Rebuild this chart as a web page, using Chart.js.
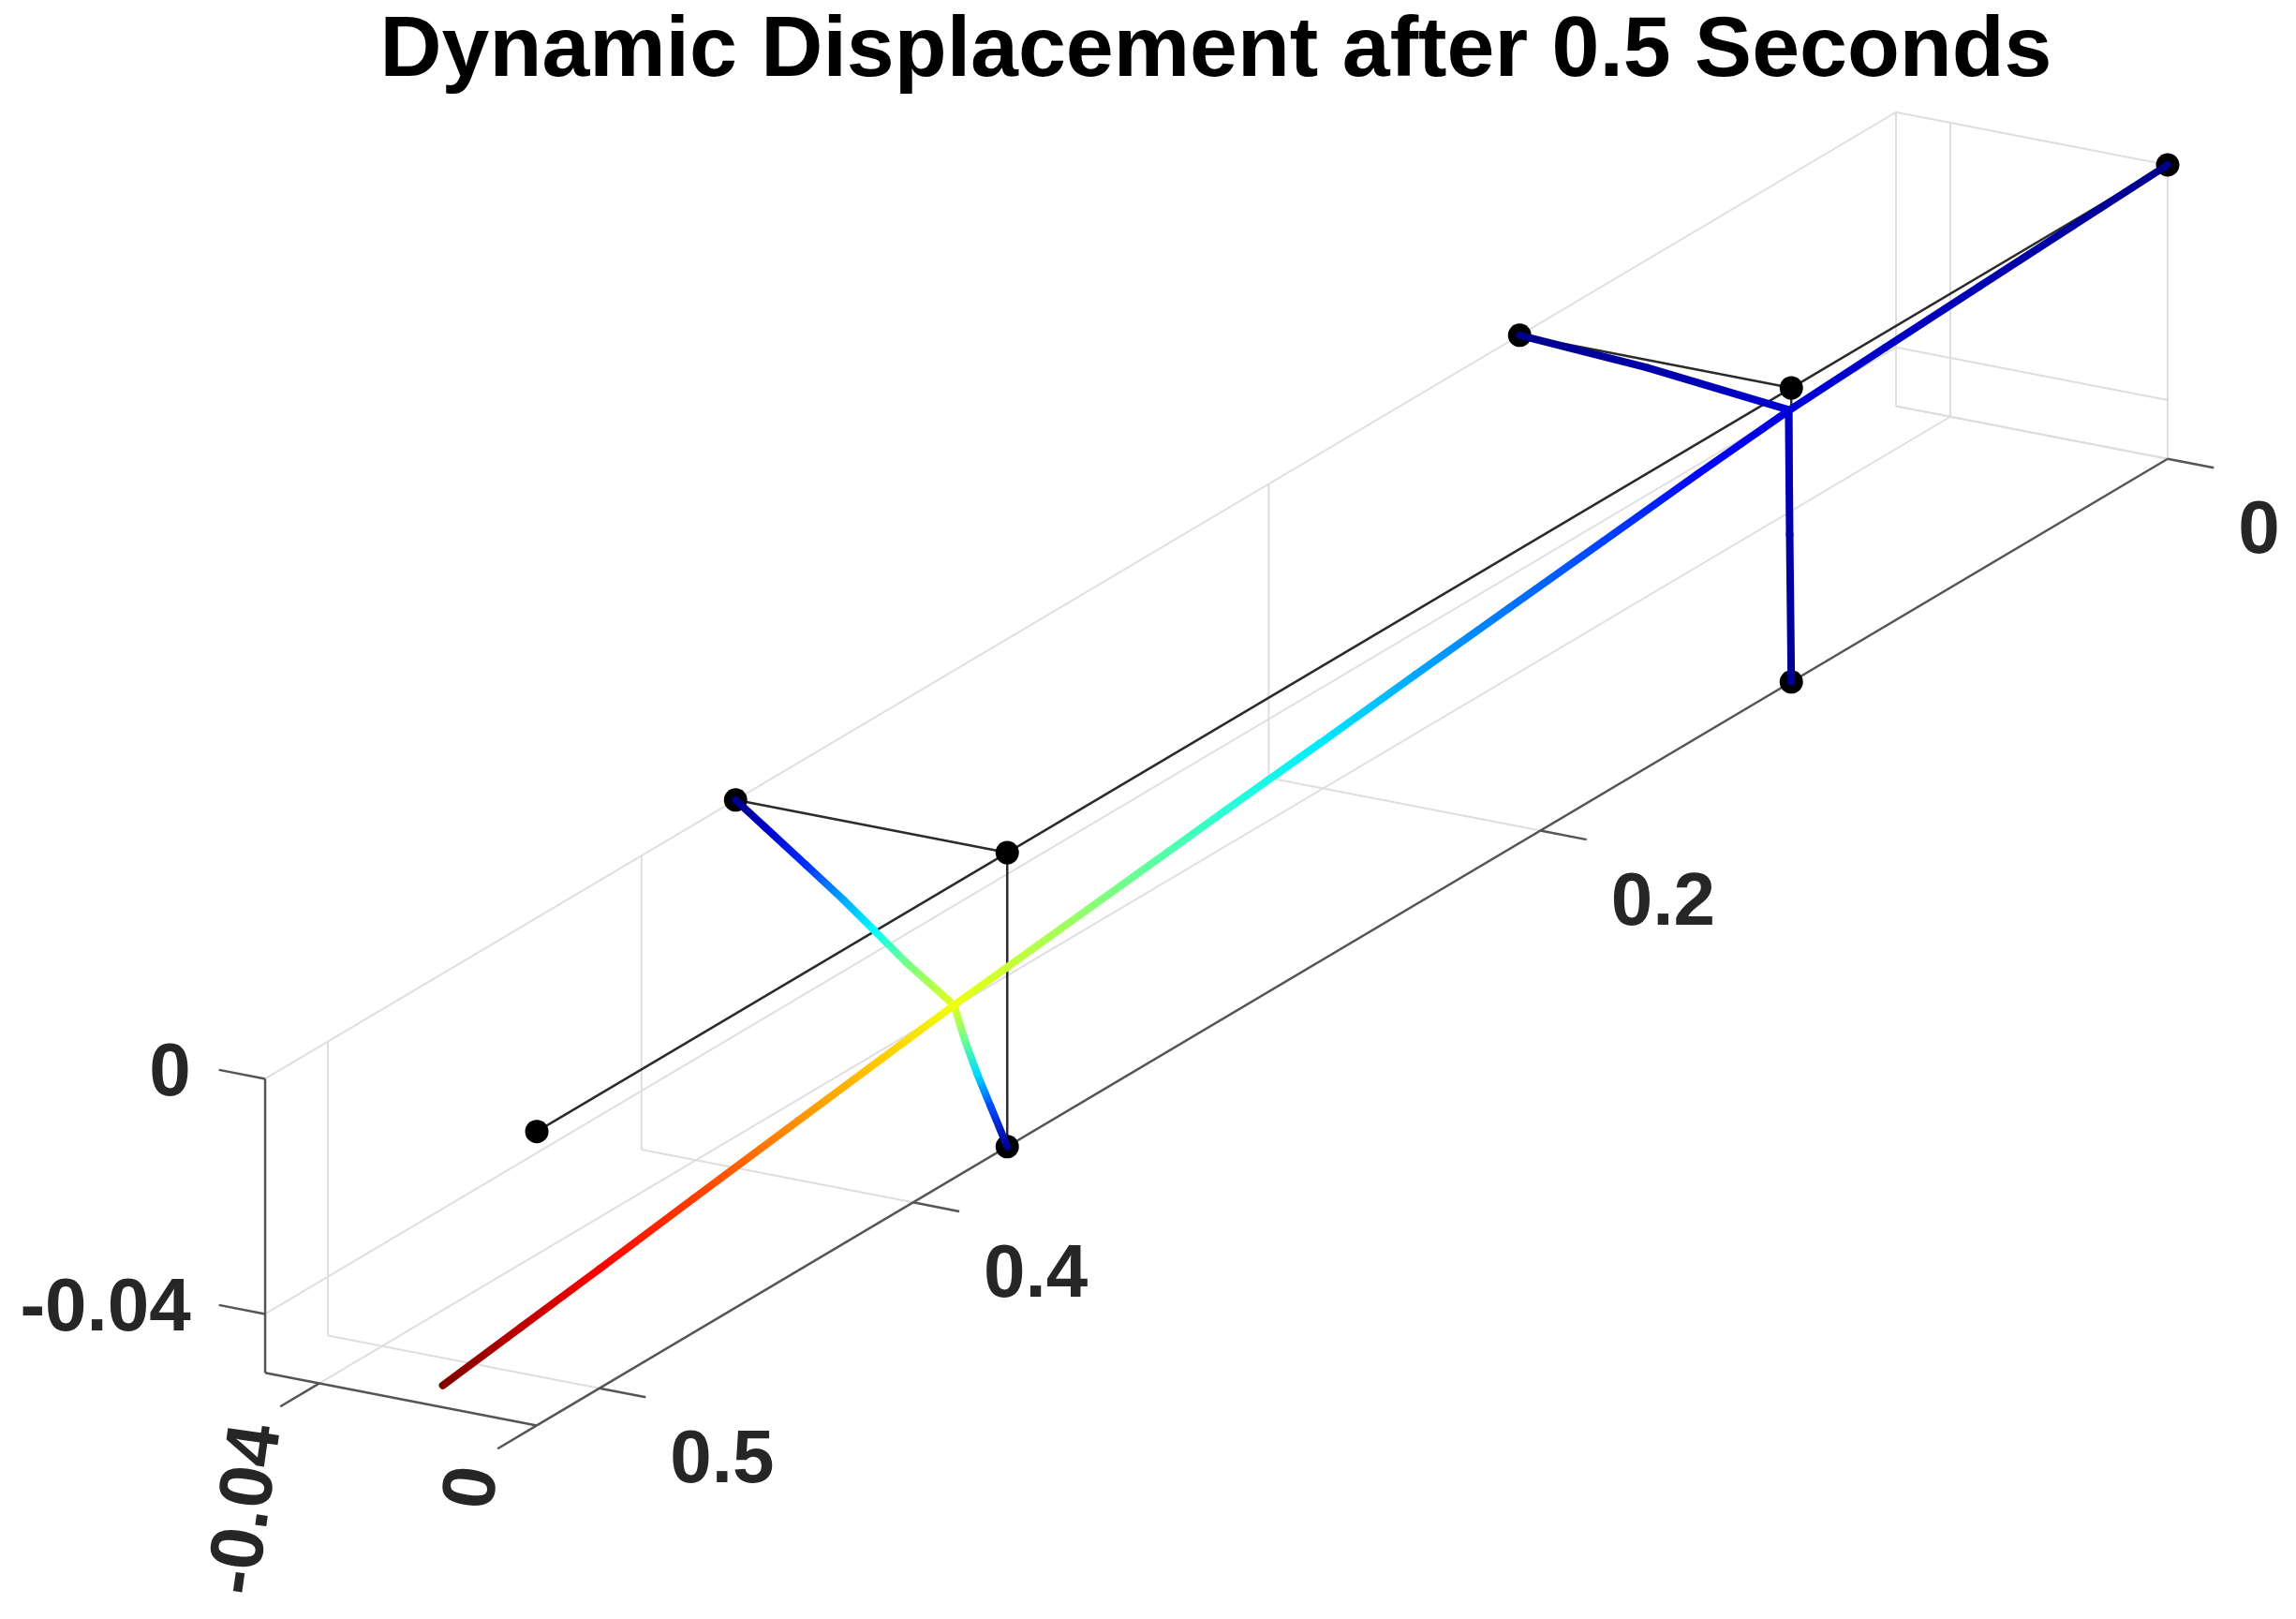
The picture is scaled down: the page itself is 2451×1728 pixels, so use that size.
<!DOCTYPE html>
<html>
<head>
    <meta charset="utf-8" />
    <title>Dynamic Displacement</title>
    <style>
        html, body { margin: 0; padding: 0; background: #fff; }
        canvas { display: block; }
    </style>
</head>
<body>
    <canvas id="chart" width="2451" height="1728"></canvas>

    <script src="https://cdn.jsdelivr.net/npm/chart.js"></script>
    <script>
        const titleText = 'Dynamic Displacement after 0.5 Seconds';

        // axis limits and ticks (metres)
        const xLimits = [0, 0.52];
        const yLimits = [-0.05, 0];
        const zLimits = [-0.05, 0];
        const xTicks = [0, 0.2, 0.4, 0.5];
        const yTicks = [-0.04, 0];
        const zTicks = [-0.04, 0];

        // undeformed frame
        const restX = [0, 0.12, 0.37, 0.52];
        const ribStations = [0.12, 0.37];

        // deformed spar
        const sparX = [0, 0.03, 0.06, 0.09, 0.121, 0.15, 0.18, 0.21, 0.24, 0.27, 0.30, 0.33, 0.36, 0.387, 0.41, 0.44, 0.47, 0.50, 0.525, 0.55];
        const sparZ = [0, -0.0008, -0.0017, -0.0026, -0.0036, -0.0052, -0.0071, -0.009, -0.0109, -0.0129, -0.0148, -0.0168, -0.0188, -0.0206, -0.0224, -0.0248, -0.0272, -0.0297, -0.0317, -0.0337];
        const sparColor = [0.01, 0.03, 0.05, 0.07, 0.09, 0.13, 0.19, 0.24, 0.29, 0.355, 0.415, 0.48, 0.55, 0.61, 0.675, 0.74, 0.815, 0.875, 0.94, 1];

        // deformed ribs
        const rib1BackY = [-0.0005, -0.0267, -0.05];
        const rib1BackZ = [-0.0038, -0.0013, 0];
        const rib1BackColor = [0.08, 0.04, 0.01];
        const rib1DownY = [-0.0005, -0.0003, 0];
        const rib1DownZ = [-0.0038, -0.025, -0.05];
        const rib1DownColor = [0.07, 0.04, 0.02];
        const rib2BackY = [-0.0098, -0.0186, -0.0245, -0.0302, -0.0371, -0.0445, -0.05];
        const rib2BackZ = [-0.0277, -0.022, -0.0176, -0.0134, -0.0087, -0.0037, 0];
        const rib2BackColor = [0.6, 0.49, 0.375, 0.29, 0.17, 0.07, 0.01];
        const rib2DownY = [-0.0098, -0.0078, -0.0055, -0.0031, 0];
        const rib2DownZ = [-0.0277, -0.0333, -0.0387, -0.0436, -0.05];
        const rib2DownColor = [0.6, 0.48, 0.34, 0.2, 0.02];

        // view used for the 3D axes
        const view = { ox: 2314, oy: 176, xx: -3348, xy: 1984, yx: 5800, yy: 1125, zy: -6275 };
        function project(x, y, z) {
            return {
                x: view.ox + view.xx * x + view.yx * y,
                y: view.oy + view.xy * x + view.yy * y + view.zy * z
            };
        }

        const jetStops = [
            [0, 0, 0, 128], [0.125, 0, 0, 255], [0.375, 0, 255, 255],
            [0.625, 255, 255, 0], [0.875, 255, 0, 0], [1, 128, 0, 0]
        ];
        function jet(v) {
            for (let i = 1; i < jetStops.length; i++) {
                if (v <= jetStops[i][0]) {
                    const a = jetStops[i - 1], b = jetStops[i];
                    const t = (v - a[0]) / (b[0] - a[0]);
                    const c = [1, 2, 3].map(k => Math.round(a[k] + (b[k] - a[k]) * t));
                    return `rgb(${c[0]},${c[1]},${c[2]})`;
                }
            }
            return 'rgb(128,0,0)';
        }

        const datasets = [];
        function addLine(points, color, width) {
            datasets.push({
                data: points.map(p => project(p[0], p[1], p[2])),
                showLine: true,
                borderColor: color,
                borderWidth: width,
                pointRadius: 0
            });
        }

        const gridColor = '#dedede';
        const axisColor = '#555555';
        const xEnd = xLimits[1], yBack = yLimits[0], zLow = zLimits[0];

        // back wall
        addLine([[0, yBack, 0], [xEnd, yBack, 0]], gridColor, 2);
        addLine([[0, yBack, zTicks[0]], [xEnd, yBack, zTicks[0]]], gridColor, 2);
        xTicks.forEach(x => addLine([[x, yBack, 0], [x, yBack, zLow]], gridColor, 2));
        // end wall
        zTicks.concat(zLow).forEach(z => addLine([[0, yBack, z], [0, 0, z]], gridColor, 2));
        yTicks.forEach(y => addLine([[0, y, 0], [0, y, zLow]], gridColor, 2));
        // floor
        addLine([[0, yTicks[0], zLow], [xEnd, yTicks[0], zLow]], gridColor, 2);
        xTicks.forEach(x => addLine([[x, yBack, zLow], [x, 0, zLow]], gridColor, 2));

        // axes and tick marks
        addLine([[0, 0, zLow], [xEnd, 0, zLow]], axisColor, 2.5);
        addLine([[xEnd, yBack, zLow], [xEnd, 0, zLow]], axisColor, 2.5);
        addLine([[xEnd, yBack, 0], [xEnd, yBack, zLow]], axisColor, 2.5);
        const xTickLen = 0.0085, yTickLen = 0.0125, zTickLen = 0.0085;
        xTicks.forEach(x => addLine([[x, 0, zLow], [x, xTickLen, zLow]], axisColor, 2.5));
        yTicks.forEach(y => addLine([[xEnd, y, zLow], [xEnd + yTickLen, y, zLow]], axisColor, 2.5));
        zTicks.forEach(z => addLine([[xEnd, yBack, z], [xEnd, yBack - zTickLen, z]], axisColor, 2.5));

        // undeformed frame with its nodes
        const frameColor = '#2b2b2b';
        addLine(restX.map(x => [x, 0, 0]), frameColor, 2.5);
        ribStations.forEach(x => {
            addLine([[x, 0, 0], [x, yBack, 0]], frameColor, 2.5);
            addLine([[x, 0, 0], [x, 0, zLow]], frameColor, 2.5);
        });
        const nodes = restX.map(x => project(x, 0, 0));
        ribStations.forEach(x => nodes.push(project(x, yBack, 0), project(x, 0, zLow)));
        datasets.push({ data: nodes, showLine: false, pointRadius: 12.5, pointBackgroundColor: '#000', pointBorderWidth: 0 });

        // deformed shape, coloured by displacement
        function addDeformed(points, colors) {
            datasets.push({
                data: points,
                showLine: true,
                borderWidth: 8,
                borderCapStyle: 'round',
                borderColor: jet(colors[0]),
                pointRadius: 0,
                segment: {
                    borderColor: ctx => {
                        const g = ctx.chart.ctx.createLinearGradient(ctx.p0.x, ctx.p0.y, ctx.p1.x, ctx.p1.y);
                        g.addColorStop(0, jet(colors[ctx.p0DataIndex]));
                        g.addColorStop(1, jet(colors[ctx.p1DataIndex]));
                        return g;
                    }
                }
            });
        }
        addDeformed(rib1BackY.map((y, i) => project(0.12, y, rib1BackZ[i])), rib1BackColor);
        addDeformed(rib1DownY.map((y, i) => project(0.12, y, rib1DownZ[i])), rib1DownColor);
        addDeformed(rib2BackY.map((y, i) => project(0.37, y, rib2BackZ[i])), rib2BackColor);
        addDeformed(rib2DownY.map((y, i) => project(0.37, y, rib2DownZ[i])), rib2DownColor);
        addDeformed(sparX.map((x, i) => project(x, 0, sparZ[i])), sparColor);

        // title and the tick labels of the 3D axes
        const textPlugin = {
            id: 'axisText',
            afterDraw(chart) {
                const ctx = chart.ctx;
                const sx = chart.scales.x, sy = chart.scales.y;
                const put = (text, p, dx, dy, align, rot) => {
                    ctx.save();
                    ctx.translate(sx.getPixelForValue(p.x) + dx, sy.getPixelForValue(p.y) + dy);
                    if (rot) ctx.rotate(rot);
                    ctx.textAlign = align;
                    ctx.textBaseline = 'middle';
                    ctx.fillText(text, 0, 0);
                    ctx.restore();
                };
                ctx.save();
                ctx.fillStyle = '#000';
                ctx.font = 'bold 91.5px "Liberation Sans"';
                ctx.textAlign = 'center';
                ctx.textBaseline = 'alphabetic';
                ctx.fillText(titleText, 1298, 81);

                ctx.fillStyle = '#262626';
                ctx.font = 'bold 80px "Liberation Sans"';
                xTicks.forEach(x => put(String(x), project(x, xTickLen, zLow), 26, 69, 'left'));
                zTicks.forEach(z => put(String(z), project(xEnd, yBack - zTickLen, z), -30, 5, 'right'));
                yTicks.forEach(y => put(String(y), project(xEnd + yTickLen, y, zLow), -22, 20, 'right', -82 * Math.PI / 180));
                ctx.restore();
            }
        };

        new Chart(document.getElementById('chart'), {
            type: 'scatter',
            data: { datasets: datasets.reverse() },
            options: {
                responsive: false,
                animation: false,
                devicePixelRatio: 1,
                layout: { padding: 0, autoPadding: false },
                plugins: { legend: { display: false }, tooltip: { enabled: false } },
                scales: {
                    x: { type: 'linear', display: false, min: 0, max: 2451 },
                    y: { type: 'linear', display: false, min: 0, max: 1728, reverse: true }
                }
            },
            plugins: [textPlugin]
        });
    </script>
</body>
</html>
